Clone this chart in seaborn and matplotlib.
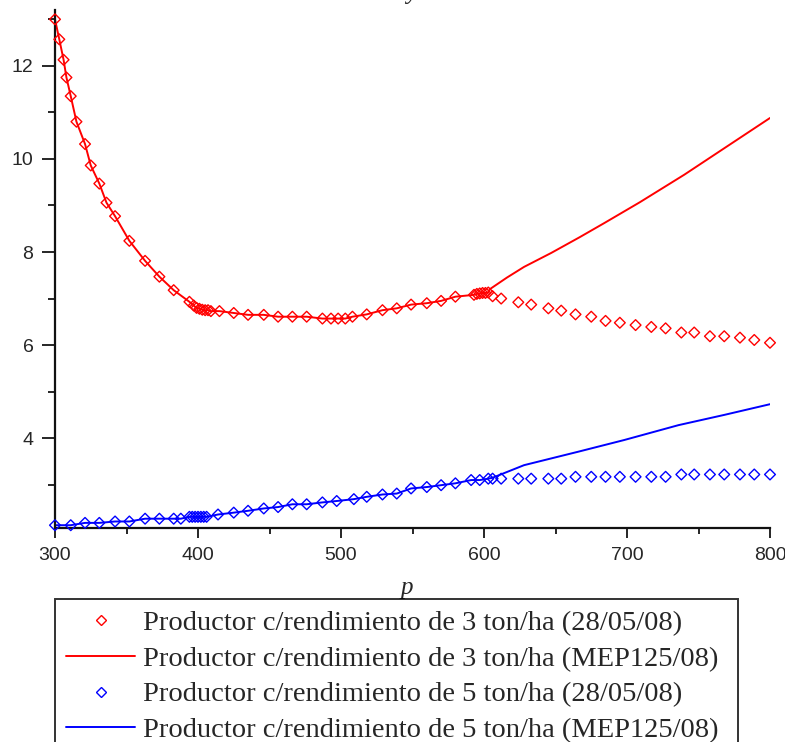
import numpy as np
import pandas as pd
import matplotlib
matplotlib.use('Agg')
import matplotlib.pyplot as plt
import matplotlib.transforms as mtransforms
from matplotlib.lines import Line2D
from matplotlib.ticker import MultipleLocator
import seaborn as sns

# data
red_pts_x = [300, 303, 306, 308, 311, 315, 321, 325, 331, 336, 342, 352, 363, 373, 383, 394,
             397, 399, 401, 403, 405, 407, 409, 415, 425, 435, 446, 456, 466, 476, 487, 493,
             498, 503, 508, 518, 529, 539, 549, 560, 570, 580, 593, 595, 597, 599, 601, 603,
             606, 612, 624, 633, 645, 654, 664, 675, 685, 695, 706, 717, 727, 738, 747, 758,
             768, 779, 789, 800]
red_pts_y = [13.0, 12.57, 12.13, 11.75, 11.35, 10.80, 10.32, 9.86, 9.47, 9.06, 8.77, 8.24, 7.81, 7.47, 7.18, 6.93,
             6.85, 6.80, 6.78, 6.76, 6.75, 6.75, 6.73, 6.73, 6.69, 6.65, 6.65, 6.61, 6.61, 6.61, 6.57, 6.57,
             6.57, 6.57, 6.61, 6.66, 6.75, 6.79, 6.87, 6.90, 6.95, 7.04, 7.08, 7.10, 7.11, 7.12, 7.12, 7.13,
             7.05, 7.00, 6.92, 6.87, 6.79, 6.74, 6.66, 6.61, 6.52, 6.48, 6.43, 6.39, 6.36, 6.27, 6.27, 6.19,
             6.19, 6.16, 6.11, 6.05]

red_tail_x = [604, 616, 628, 647, 667, 684, 709, 740, 770, 800]
red_tail_y = [7.20, 7.45, 7.68, 7.98, 8.32, 8.62, 9.07, 9.66, 10.27, 10.88]

blue_pts_x = [300, 311, 321, 331, 342, 352, 363, 373, 383, 388, 394, 396, 398, 400, 402, 404, 406,
              414, 425, 435, 446, 456, 466, 476, 487, 497, 509, 518, 529, 539, 549, 560, 570, 580,
              591, 597, 603, 606, 612, 624, 633, 645, 654, 664, 675, 685, 695, 706, 717, 727,
              738, 747, 758, 768, 779, 789, 800]
blue_pts_y = [2.13, 2.13, 2.18, 2.18, 2.21, 2.21, 2.27, 2.27, 2.27, 2.27, 2.31, 2.31, 2.31, 2.31, 2.31, 2.31, 2.31,
              2.36, 2.40, 2.44, 2.49, 2.52, 2.58, 2.58, 2.62, 2.65, 2.69, 2.74, 2.79, 2.81, 2.92, 2.95, 2.99, 3.03,
              3.10, 3.10, 3.13, 3.13, 3.13, 3.13, 3.13, 3.13, 3.13, 3.17, 3.17, 3.17, 3.17, 3.17, 3.17, 3.17,
              3.22, 3.22, 3.22, 3.22, 3.22, 3.22, 3.22]

blue_tail_x = [606, 628, 666, 698, 736, 768, 800]
blue_tail_y = [3.15, 3.42, 3.71, 3.96, 4.28, 4.50, 4.73]

labels = ['Productor c/rendimiento de 3 ton/ha (28/05/08)',
          'Productor c/rendimiento de 3 ton/ha (MEP125/08)',
          'Productor c/rendimiento de 5 ton/ha (28/05/08)',
          'Productor c/rendimiento de 5 ton/ha (MEP125/08)']

# the MEP line follows the 28/05/08 points up to ~600 and then goes its own way
red_line = pd.DataFrame({'p': [x for x in red_pts_x if x <= 603] + red_tail_x,
                         'y': [y for x, y in zip(red_pts_x, red_pts_y) if x <= 603] + red_tail_y})
blue_line = pd.DataFrame({'p': [x for x in blue_pts_x if x <= 603] + blue_tail_x,
                          'y': [y for x, y in zip(blue_pts_x, blue_pts_y) if x <= 603] + blue_tail_y})
red_pts = pd.DataFrame({'p': red_pts_x, 'y': red_pts_y})
blue_pts = pd.DataFrame({'p': blue_pts_x, 'y': blue_pts_y})

sns.set_style('white')
plt.rcParams['font.family'] = ['Liberation Sans', 'DejaVu Sans']

fig = plt.figure(figsize=(7.85, 7.42), dpi=100)
ax = fig.add_axes([55/785, 1-528/742, 715/785, 518/742])

sns.lineplot(data=red_line, x='p', y='y', color='#ff0000', lw=1.4, sort=False, ax=ax)
sns.lineplot(data=blue_line, x='p', y='y', color='#0000ff', lw=1.4, sort=False, ax=ax)
mk = dict(marker='D', s=30, facecolor='none', linewidth=1.0, clip_on=False, zorder=3)
sns.scatterplot(data=red_pts, x='p', y='y', edgecolor='#ff0000', ax=ax, **mk)
sns.scatterplot(data=blue_pts, x='p', y='y', edgecolor='#0000ff', ax=ax, **mk)

ax.set_xlim(300, 800)
ax.set_ylim(2.07, 13.2)
ax.set_xlabel('')
ax.set_ylabel('')
ax.xaxis.set_major_locator(MultipleLocator(100))
ax.xaxis.set_minor_locator(MultipleLocator(50))
ax.yaxis.set_minor_locator(MultipleLocator(1))
ax.set_yticks([4, 6, 8, 10, 12])
for s in ['top', 'right']:
    ax.spines[s].set_visible(False)
for s in ['left', 'bottom']:
    ax.spines[s].set_linewidth(1.6)
    ax.spines[s].set_color('#111111')
ax.tick_params(axis='y', which='major', direction='out', length=9.5, width=1.4, pad=6, labelsize=14, left=True)
ax.tick_params(axis='y', which='minor', direction='out', length=5, width=1.4, left=True)
ax.tick_params(axis='x', which='major', direction='out', length=7, width=1.4, pad=7, labelsize=14, bottom=True)
ax.tick_params(axis='x', which='minor', direction='out', length=4, width=1.4, bottom=True)

# keep the last x label inside the figure like the original
last = ax.get_xticklabels()[-1]
last.set_transform(last.get_transform() + mtransforms.ScaledTranslation(-6/72, 0, fig.dpi_scale_trans))

fig.text(407/785, 1-588/742, 'p', ha='center', va='center', style='italic',
         family='Liberation Serif', fontsize=18)
fig.text(412/785, 1+1/742, 'y', ha='center', va='baseline', style='italic',
         family='Liberation Serif', fontsize=18)

handles = [Line2D([], [], ls='none', marker='D', ms=5, mfc='none', mec='#ff0000', mew=1.0),
           Line2D([], [], color='#ff0000', lw=1.4),
           Line2D([], [], ls='none', marker='D', ms=5, mfc='none', mec='#0000ff', mew=1.0),
           Line2D([], [], color='#0000ff', lw=1.4)]
leg = fig.legend(handles, labels, loc='upper left',
                 bbox_to_anchor=(55/785, 1-599/742, 683/785, 0), mode='expand',
                 prop={'family': 'Liberation Serif', 'size': 20.5}, frameon=True, fancybox=False,
                 edgecolor='black', handlelength=2.4, handletextpad=0.3, labelspacing=0.34,
                 borderpad=0.4, borderaxespad=0)
leg.get_frame().set_linewidth(1.4)

fig.savefig('out.png', dpi=100)
